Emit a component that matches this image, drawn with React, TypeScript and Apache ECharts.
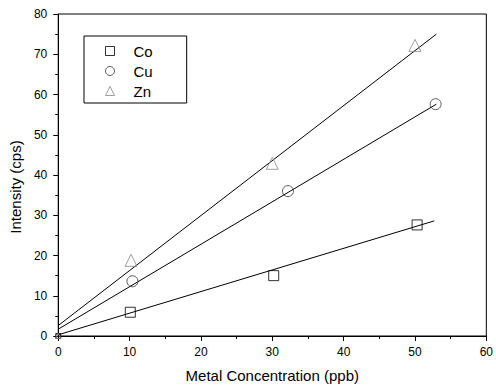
import React, { useEffect, useRef } from "react";
import * as echarts from "echarts";

const coData: [number, number][] = [[0, 0], [10.1, 5.9], [30.2, 15.0], [50.3, 27.6]];
const cuData: [number, number][] = [[0, 0], [10.4, 13.6], [32.2, 36.0], [52.9, 57.6]];
const znData: [number, number][] = [[0, 0], [10.2, 18.8], [30.0, 42.9], [50.0, 72.2]];

// fitted lines (start, end)
const coFit: [number, number][] = [[0, 0.3], [52.7, 28.6]];
const cuFit: [number, number][] = [[0, 1.7], [53.0, 57.6]];
const znFit: [number, number][] = [[0, 2.6], [53.0, 75.0]];

const xTicks = { min: 0, max: 60, interval: 10 };
const yTicks = { min: 0, max: 80, interval: 10 };

const FONT = "Liberation Sans, Arial, Helvetica, sans-serif";

export default function App() {
  const ref = useRef<HTMLDivElement>(null);
  useEffect(() => {
    if (!ref.current) return;
    const chart = echarts.init(ref.current, undefined, { renderer: "svg" });
    const axisCommon = {
      type: "value" as const,
      axisLine: { show: true, lineStyle: { color: "#000", width: 1 } },
      axisTick: { show: true, inside: false, length: 5, lineStyle: { color: "#000" } },
      minorTick: { show: true, splitNumber: 2, length: 3, lineStyle: { color: "#000" } },
      splitLine: { show: false },
      axisLabel: { color: "#000", fontSize: 12, fontFamily: FONT },
    };
    const scatter = (name: string, data: [number, number][], symbol: string, color: string, size: number) => ({
      type: "scatter",
      name,
      data,
      symbol,
      symbolSize: (v: number[]) => (v[0] === 0 && v[1] === 0 ? 5 : size),
      clip: false,
      itemStyle: { color: "rgba(0,0,0,0)", borderColor: color, borderWidth: 1 },
      z: 3,
    });
    const line = (name: string, data: [number, number][]) => ({
      type: "line",
      name,
      data,
      symbol: "none",
      lineStyle: { color: "#000", width: 1 },
      z: 2,
    });
    chart.setOption({
      animation: false,
      backgroundColor: "#fff",
      grid: {
        left: 58,
        right: 4,
        top: 14,
        bottom: 48,
        show: true,
        borderColor: "#000",
        borderWidth: 1,
        backgroundColor: "transparent",
      },
      xAxis: {
        ...axisCommon,
        ...xTicks,
        name: "Metal Concentration (ppb)",
        nameLocation: "middle",
        nameGap: 32,
        nameTextStyle: { color: "#000", fontSize: 15, fontFamily: FONT },
        axisLabel: { ...axisCommon.axisLabel, margin: 10 },
      },
      yAxis: {
        ...axisCommon,
        ...yTicks,
        name: "Intensity (cps)",
        nameLocation: "middle",
        nameGap: 31,
        nameTextStyle: { color: "#000", fontSize: 15, fontFamily: FONT, padding: [0, 24, 0, 0] },
        axisLabel: { ...axisCommon.axisLabel, margin: 11 },
      },
      legend: {
        data: ["Co", "Cu", "Zn"],
        orient: "vertical",
        left: 84,
        top: 36,
        selectedMode: false,
        borderColor: "#000",
        borderWidth: 1,
        padding: [7, 20, 4, 21],
        itemWidth: 9,
        itemHeight: 9,
        itemGap: 4,
        itemStyle: { borderWidth: 1 },
        textStyle: { color: "#000", fontSize: 15, lineHeight: 16, fontFamily: FONT, padding: [0, 14, 0, 14] },
      },
      series: [
        line("CoFit", coFit),
        line("CuFit", cuFit),
        line("ZnFit", znFit),
        scatter("Co", coData, "rect", "#000", 10),
        scatter("Cu", cuData, "circle", "#333", 11),
        scatter("Zn", znData, "triangle", "#888", 12),
      ],
    });
    return () => chart.dispose();
  }, []);
  return (
    <div
      ref={ref}
      style={{ position: "fixed", left: 0, top: 0, width: 496, height: 388, background: "#fff" }}
    />
  );
}
